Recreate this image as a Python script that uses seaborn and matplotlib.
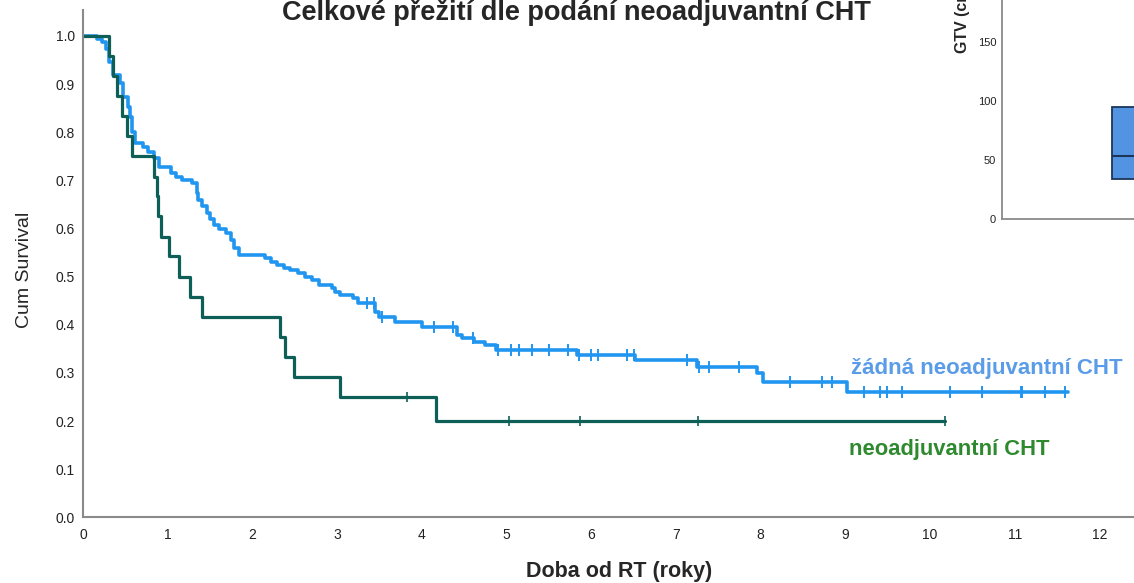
import numpy as np
import pandas as pd
import matplotlib
matplotlib.use("Agg")
import matplotlib.pyplot as plt
import seaborn as sns

# ---------------- data ----------------
title = "Celkové přežití dle podání neoadjuvantní CHT"
x_label = "Doba od RT (roky)"
y_label = "Cum Survival"
label_none = "žádná neoadjuvantní CHT"
label_cht = "neoadjuvantní CHT"

x_ticks = list(range(0, 13))
y_ticks = [0.0, 0.1, 0.2, 0.3, 0.4, 0.5, 0.6, 0.7, 0.8, 0.9, 1.0]

# group without neoadjuvant CHT: step times and survival after each step
none_t = [0.0, 0.16, 0.22, 0.27, 0.30, 0.35, 0.43, 0.47, 0.53, 0.55, 0.58, 0.61,
          0.71, 0.77, 0.83, 0.89, 1.04, 1.09, 1.16, 1.28, 1.34, 1.36, 1.40, 1.46,
          1.50, 1.54, 1.60, 1.68, 1.74, 1.78, 1.835, 2.15, 2.22, 2.29, 2.37, 2.44,
          2.53, 2.62, 2.70, 2.78, 2.94, 2.97, 3.03, 3.19, 3.25, 3.45, 3.49, 3.68,
          4.00, 4.41, 4.47, 4.61, 4.75, 4.88, 5.83, 6.52, 7.25, 7.96, 8.03, 9.02,
          11.63]
none_s = [1.0, 0.993, 0.987, 0.973, 0.947, 0.920, 0.902, 0.874, 0.853, 0.832, 0.800, 0.777,
          0.770, 0.760, 0.746, 0.728, 0.715, 0.708, 0.700, 0.694, 0.673, 0.660, 0.647, 0.633,
          0.620, 0.607, 0.600, 0.590, 0.576, 0.560, 0.545, 0.538, 0.530, 0.524, 0.517, 0.513,
          0.507, 0.500, 0.493, 0.483, 0.476, 0.469, 0.462, 0.455, 0.445, 0.427, 0.417, 0.406,
          0.396, 0.379, 0.372, 0.365, 0.358, 0.348, 0.338, 0.327, 0.313, 0.299, 0.282, 0.261,
          0.261]
none_cens = [3.35, 3.43, 3.53, 4.14, 4.37, 4.60, 4.90, 5.05, 5.15, 5.30, 5.50, 5.73,
             5.85, 6.00, 6.08, 6.42, 6.50, 7.13, 7.27, 7.39, 7.74, 8.35, 8.72, 8.84,
             9.22, 9.41, 9.49, 9.67, 10.24, 10.61, 11.07, 11.09, 11.36, 11.60]

# group with neoadjuvant CHT
cht_t = [0.0, 0.307, 0.347, 0.40, 0.453, 0.52, 0.57, 0.83, 0.867, 0.88, 0.92, 1.01,
         1.13, 1.26, 1.40, 2.32, 2.38, 2.49, 3.03, 4.17, 10.18]
cht_s = [1.0, 0.958, 0.917, 0.875, 0.833, 0.792, 0.750, 0.708, 0.667, 0.625, 0.583, 0.542,
         0.500, 0.458, 0.417, 0.375, 0.333, 0.292, 0.250, 0.200, 0.200]
cht_cens = [3.82, 5.03, 5.87, 7.26, 10.18]

# overlapping inset (box plot of GTV)
gtv_ticks = [0, 50, 100, 150]
gtv_q1, gtv_med, gtv_q3 = 34, 53, 95
gtv_label = "GTV (cm³)"

# ---------------- style ----------------
sns.set_style("white")
plt.rcParams["font.family"] = ["Liberation Sans", "DejaVu Sans"]

W, H = 1134, 583
BLUE = "#2196f0"
GREEN = "#0f5f59"
BLUE_TXT = "#5a9ce8"
GREEN_TXT = "#2f8a2f"
SPINE = "#8a8a8a"

fig = plt.figure(figsize=(W / 100, H / 100), dpi=100)
ax = fig.add_axes([83.3 / W, (H - 517.3) / H, (W - 83.3) / W, (517.3 - 10) / H])

def step_at(ts, ss, x):
    idx = np.searchsorted(np.asarray(ts), np.asarray(x), side="right") - 1
    return np.asarray(ss)[idx]

df_none = pd.DataFrame({"t": none_t, "s": none_s})
df_cht = pd.DataFrame({"t": cht_t, "s": cht_s})

sns.lineplot(data=df_none, x="t", y="s", ax=ax, color=BLUE, lw=2.6,
             drawstyle="steps-post", estimator=None, sort=False)
sns.lineplot(data=df_cht, x="t", y="s", ax=ax, color=GREEN, lw=2.3,
             drawstyle="steps-post", estimator=None, sort=False)

cn = pd.DataFrame({"t": none_cens, "s": step_at(none_t, none_s, none_cens)})
cc = pd.DataFrame({"t": cht_cens, "s": step_at(cht_t, cht_s, cht_cens)})
sns.scatterplot(data=cn, x="t", y="s", ax=ax, marker="|", s=70, linewidth=1.4,
                color=BLUE, zorder=4)
sns.scatterplot(data=cc, x="t", y="s", ax=ax, marker="|", s=60, linewidth=1.2,
                color=GREEN, zorder=4)

ax.set_xlim(0, (W - 83.3) / 84.67)
ax.set_ylim(0, (517.3 - 10) / 481.3)
ax.set_xticks(x_ticks)
ax.set_xticklabels([str(v) for v in x_ticks])
ax.set_yticks(y_ticks)
ax.set_yticklabels([f"{v:.1f}" for v in y_ticks])
ax.tick_params(axis="both", length=0, labelsize=10, colors="#222222")
ax.tick_params(axis="x", pad=8)
ax.tick_params(axis="y", pad=6)
ax.set_xlabel("")
ax.set_ylabel("")
for side in ["top", "right"]:
    ax.spines[side].set_visible(False)
for side in ["left", "bottom"]:
    ax.spines[side].set_color(SPINE)
    ax.spines[side].set_linewidth(1.5)

def ftext(x, y, s, **kw):
    return fig.text(x / W, 1 - y / H, s, **kw)

ftext(576, 20.5, title, ha="center", va="baseline", fontsize=19.5, fontweight="bold")
ftext(619, 572, x_label, ha="center", va="center", fontsize=15.5, fontweight="bold")
ftext(25, 270, y_label, ha="center", va="center", rotation=90, fontsize=14)
ftext(851, 374, label_none, ha="left", va="baseline", fontsize=16,
      fontweight="bold", color=BLUE_TXT)
ftext(849, 455, label_cht, ha="left", va="baseline", fontsize=15.8,
      fontweight="bold", color=GREEN_TXT)

# ---------------- overlapping inset box plot ----------------
bg = fig.add_axes([940 / W, (H - 230) / H, (W - 940) / W, 240 / H])
bg.set_facecolor("white")
bg.set_xticks([]); bg.set_yticks([])
for sp in bg.spines.values():
    sp.set_visible(False)

ins = fig.add_axes([1001.7 / W, (H - 219) / H, (1200 - 1001.7) / W, (219 + 30) / H])
ins.set_facecolor("white")
ins.set_xlim(0, 1)
ins.set_ylim(0, 249 / 1.18)
stats = [{"q1": gtv_q1, "med": gtv_med, "q3": gtv_q3, "whislo": gtv_q1, "whishi": gtv_q3}]
ins.bxp(stats, positions=[0.8], widths=[0.484], showfliers=False, showcaps=False,
        patch_artist=True,
        boxprops=dict(facecolor="#5294e2", edgecolor="#1d3557", linewidth=1.3),
        medianprops=dict(color="#1d3557", linewidth=1.5),
        whiskerprops=dict(color="#1d3557"))
ins.set_xlim(0, 1)
ins.set_xticks([])
ins.set_yticks(gtv_ticks)
ins.set_yticklabels([str(v) for v in gtv_ticks])
ins.tick_params(axis="y", length=0, labelsize=8, pad=4, colors="#222222")
for side in ["top", "right"]:
    ins.spines[side].set_visible(False)
for side in ["left", "bottom"]:
    ins.spines[side].set_color(SPINE)
    ins.spines[side].set_linewidth(1.3)
ftext(963, 53, gtv_label, ha="left", va="center", rotation=90,
      rotation_mode="anchor", fontsize=11.5, fontweight="bold")

fig.savefig("out.png", dpi=100)
